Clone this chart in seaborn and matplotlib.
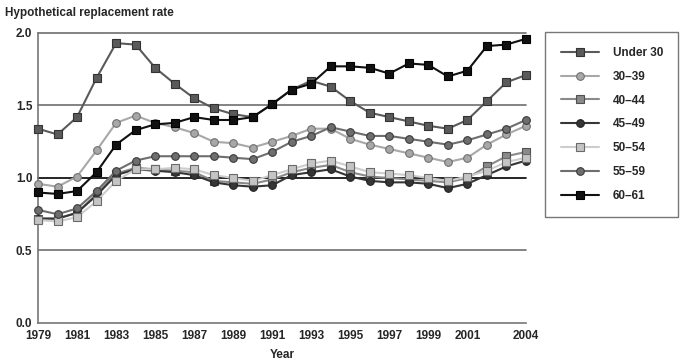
import pandas as pd
import matplotlib.pyplot as plt
import seaborn as sns

years = list(range(1979, 2005))

under_30 = [1.34, 1.30, 1.42, 1.69, 1.93, 1.92, 1.76, 1.65, 1.55, 1.48, 1.44, 1.42, 1.51,
            1.61, 1.67, 1.63, 1.53, 1.45, 1.42, 1.39, 1.36, 1.34, 1.40, 1.53, 1.66, 1.71]
age_30_39 = [0.96, 0.94, 1.01, 1.19, 1.38, 1.43, 1.38, 1.35, 1.31, 1.25, 1.24, 1.21, 1.25,
             1.29, 1.34, 1.34, 1.27, 1.23, 1.20, 1.17, 1.14, 1.11, 1.14, 1.23, 1.30, 1.36]
age_40_44 = [0.72, 0.72, 0.76, 0.89, 1.03, 1.07, 1.06, 1.05, 1.04, 0.98, 0.97, 0.96, 0.99,
             1.04, 1.07, 1.09, 1.04, 1.01, 1.00, 0.99, 0.98, 0.97, 1.00, 1.08, 1.15, 1.18]
age_45_49 = [0.72, 0.72, 0.76, 0.88, 1.02, 1.06, 1.05, 1.04, 1.02, 0.97, 0.95, 0.94, 0.95,
             1.02, 1.04, 1.06, 1.01, 0.98, 0.97, 0.97, 0.96, 0.93, 0.96, 1.02, 1.08, 1.12]
age_50_54 = [0.71, 0.70, 0.73, 0.84, 0.98, 1.06, 1.06, 1.07, 1.06, 1.02, 1.00, 0.98, 1.02,
             1.06, 1.10, 1.12, 1.08, 1.04, 1.03, 1.02, 1.00, 0.98, 1.01, 1.05, 1.11, 1.14]
age_55_59 = [0.78, 0.75, 0.79, 0.91, 1.05, 1.12, 1.15, 1.15, 1.15, 1.15, 1.14, 1.13, 1.18,
             1.25, 1.29, 1.35, 1.32, 1.29, 1.29, 1.27, 1.25, 1.23, 1.26, 1.30, 1.34, 1.40]
age_60_61 = [0.90, 0.89, 0.91, 1.04, 1.23, 1.33, 1.37, 1.38, 1.42, 1.40, 1.40, 1.42, 1.51,
             1.61, 1.65, 1.77, 1.77, 1.76, 1.72, 1.79, 1.78, 1.70, 1.74, 1.91, 1.92, 1.96]

groups = ["Under 30", "30\u201339", "40\u201344", "45\u201349", "50\u201354", "55\u201359", "60\u201361"]
values = [under_30, age_30_39, age_40_44, age_45_49, age_50_54, age_55_59, age_60_61]

# line colour, marker face, marker edge, marker
styles = [
    ("#5a5a5a", "#5a5a5a", "#333333", "s"),
    ("#a8a8a8", "#a8a8a8", "#707070", "o"),
    ("#8a8a8a", "#8a8a8a", "#505050", "s"),
    ("#363636", "#363636", "#222222", "o"),
    ("#cdcdcd", "#c4c4c4", "#6a6a6a", "s"),
    ("#6e6e6e", "#6e6e6e", "#3a3a3a", "o"),
    ("#111111", "#111111", "#000000", "s"),
]

sns.set_style("white")
plt.rcParams['font.family'] = ['Liberation Sans', 'DejaVu Sans']

fig = plt.figure(figsize=(6.99, 3.61), dpi=100)
ax = fig.add_axes([0.0544, 0.1053, 0.698, 0.8033])

for y in [0.5, 1.5, 2.0]:
    ax.axhline(y, color="#6e6e6e", lw=1.2, zorder=1)
ax.axhline(1.0, color="#000000", lw=1.2, zorder=1)

for g, v, (lc, fc, ec, m) in zip(groups, values, styles):
    df = pd.DataFrame({"Year": years, "rate": v})
    sns.lineplot(data=df, x="Year", y="rate", ax=ax, color=lc, lw=1.5, marker=m,
                 markersize=5.5, markerfacecolor=fc, markeredgecolor=ec,
                 markeredgewidth=0.8, label=g, zorder=3)

ax.set_xlim(1979, 2004)
ax.set_ylim(0, 2.0)
ax.set_xticks(years)
ax.set_xticklabels([str(y) if (y <= 2001 and (y - 1979) % 2 == 0) or y == 2004 else ""
                    for y in years], fontsize=8.5, fontweight="bold")
ax.set_yticks([0, 0.5, 1.0, 1.5, 2.0])
ax.set_yticklabels(["0.0", "0.5", "1.0", "1.5", "2.0"], fontsize=8.5, fontweight="bold")
ax.tick_params(axis="both", direction="out", length=4, width=1, color="#333333", pad=1)
ax.tick_params(axis="y", length=3)
for s in ["top", "right"]:
    ax.spines[s].set_visible(False)
for s in ["left", "bottom"]:
    ax.spines[s].set_color("#777777")
    ax.spines[s].set_linewidth(1.2)
for line in ax.lines:
    line.set_clip_on(False)

ax.set_xlabel("Year", fontsize=8.5, fontweight="bold", labelpad=5)
ax.set_ylabel("")
fig.text(0.007, 0.965, "Hypothetical replacement rate", fontsize=8.5, fontweight="bold",
         ha="left", va="center")

leg = ax.legend(loc="upper left", bbox_to_anchor=(1.04, 1.005), frameon=True, fancybox=False,
                prop={"size": 8.5, "weight": "bold"}, handlelength=3.2, labelspacing=1.0,
                borderpad=1.3, handletextpad=1.2, borderaxespad=0)
leg.get_frame().set_edgecolor("#555555")
leg.get_frame().set_linewidth(1.0)

plt.savefig("out.png", dpi=100)
